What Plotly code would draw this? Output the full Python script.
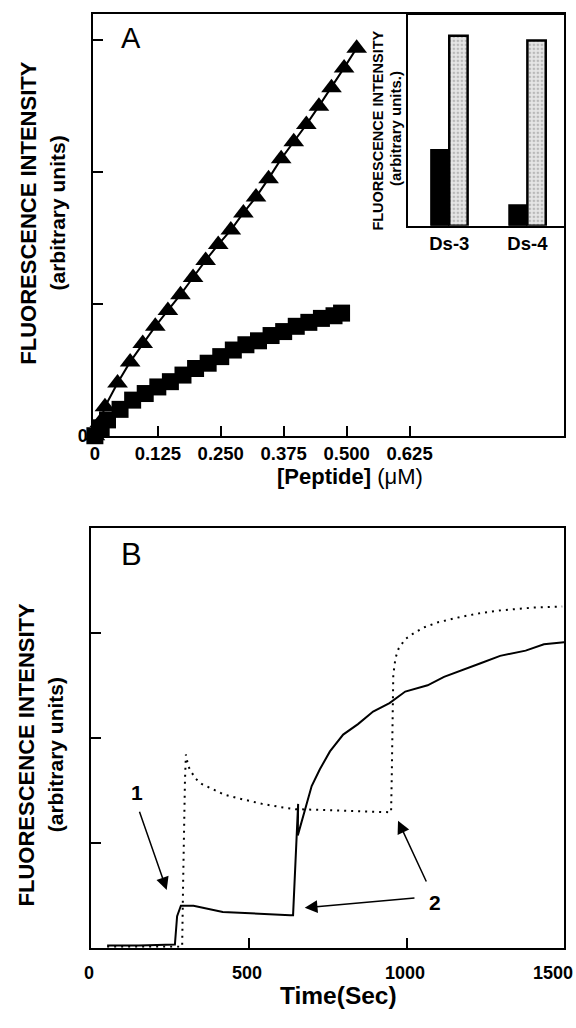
import plotly.graph_objects as go

# ---------------- Panel A data ----------------
tri_x = [0, 0.01, 0.02, 0.045, 0.07, 0.095, 0.12, 0.145, 0.17, 0.195, 0.22, 0.245,
         0.27, 0.295, 0.32, 0.345, 0.37, 0.395, 0.42, 0.445, 0.47, 0.495, 0.52]
tri_y = [0.0, 0.10, 0.22, 0.40, 0.56, 0.70, 0.83, 0.95, 1.07, 1.20, 1.33, 1.45,
         1.56, 1.69, 1.81, 1.95, 2.10, 2.23, 2.36, 2.50, 2.64, 2.79, 2.94]
sq_x = [0, 0.0125, 0.025, 0.05, 0.075, 0.1, 0.125, 0.15, 0.175, 0.2, 0.225, 0.25,
        0.275, 0.3, 0.325, 0.35, 0.375, 0.4, 0.425, 0.45, 0.475, 0.49]
sq_y = [0.0, 0.06, 0.12, 0.20, 0.27, 0.32, 0.37, 0.41, 0.46, 0.51, 0.55, 0.60,
        0.65, 0.69, 0.72, 0.76, 0.79, 0.83, 0.86, 0.89, 0.91, 0.93]
A_xticks = [0, 0.125, 0.25, 0.375, 0.5, 0.625]
A_xticklabels = ["0", "0.125", "0.250", "0.375", "0.500", "0.625"]
A_yticks = [0, 1, 2, 3]
A_yticklabels = ["0", "", "", ""]

# ---------------- Inset data ----------------
inset_cats = ["Ds-3", "Ds-4"]
inset_black = [0.40, 0.11]
inset_gray = [1.00, 0.975]

# ---------------- Panel B data ----------------
solid_t = [50, 150, 265, 272, 284, 324, 417, 533, 631, 640, 650, 656, 655, 665, 678,
           699, 725, 757, 799, 846, 894, 946, 996, 1067, 1119, 1170, 1235, 1297,
           1378, 1436, 1500]
solid_y = [0.02, 0.02, 0.03, 0.30, 0.40, 0.40, 0.34, 0.32, 0.31, 0.31, 1.07, 1.37,
           1.07, 1.18, 1.32, 1.54, 1.70, 1.87, 2.03, 2.13, 2.25, 2.33, 2.44, 2.50,
           2.58, 2.64, 2.71, 2.78, 2.83, 2.89, 2.91]
dot_t = [50, 150, 288, 291, 294, 297, 300, 307, 318, 331, 350, 384, 420, 457, 500,
         542, 600, 647, 700, 752, 800, 857, 951, 953, 955, 958, 965, 975, 996, 1020,
         1054, 1100, 1170, 1230, 1286, 1340, 1401, 1450, 1494]
dot_y = [0.01, 0.01, 0.01, 0.60, 1.20, 1.60, 1.84, 1.73, 1.67, 1.61, 1.56, 1.51,
         1.46, 1.43, 1.40, 1.37, 1.34, 1.32, 1.315, 1.31, 1.305, 1.30, 1.29, 1.60,
         2.10, 2.60, 2.76, 2.85, 2.94, 2.99, 3.05, 3.10, 3.15, 3.185, 3.21, 3.225,
         3.24, 3.245, 3.25]
B_xticks = [0, 500, 1000, 1500]
B_xticklabels = ["0", "500", "1000", "1500"]
B_yticks = [0, 1, 2, 3]

FONT = "Liberation Sans, Arial, Helvetica, sans-serif"
W, H = 576, 1028


def px(x):
    return x / W


def py(y):
    return 1 - y / H


fig = go.Figure()

# Panel A traces
fig.add_trace(go.Scatter(x=tri_x, y=tri_y, mode="lines+markers",
                         line=dict(color="black", width=2),
                         marker=dict(symbol="triangle-up", size=18, color="black"),
                         cliponaxis=False, xaxis="x", yaxis="y", showlegend=False))
fig.add_trace(go.Scatter(x=sq_x, y=sq_y, mode="markers",
                         marker=dict(symbol="square", size=17, color="black"),
                         cliponaxis=False, xaxis="x", yaxis="y", showlegend=False))

# Inset bars
fig.add_trace(go.Bar(x=inset_cats, y=inset_black, marker=dict(color="black",
                     line=dict(color="black", width=1.5)),
                     xaxis="x3", yaxis="y3", showlegend=False))
fig.add_trace(go.Bar(x=inset_cats, y=inset_gray,
                     marker=dict(color="#e6e6e6", line=dict(color="black", width=2.5),
                                 pattern=dict(shape=".", fgcolor="#8a8a8a",
                                              bgcolor="#e6e6e6", size=4, solidity=0.35)),
                     xaxis="x3", yaxis="y3", showlegend=False))

# Panel B traces
fig.add_trace(go.Scatter(x=solid_t, y=solid_y, mode="lines",
                         line=dict(color="black", width=2),
                         xaxis="x2", yaxis="y2", showlegend=False))
fig.add_trace(go.Scatter(x=dot_t, y=dot_y, mode="lines",
                         line=dict(color="black", width=2, dash="2px,5px"),
                         xaxis="x2", yaxis="y2", showlegend=False))

axis_common = dict(showline=True, mirror=True, linecolor="black", linewidth=2,
                   showgrid=False, zeroline=False, ticks="inside", tickcolor="black",
                   tickwidth=1.5, ticklen=10)

fig.update_layout(
    width=W, height=H, margin=dict(l=0, r=0, t=0, b=0),
    paper_bgcolor="white", plot_bgcolor="white",
    font=dict(family=FONT, color="black"),
    barmode="group", bargap=0.53, bargroupgap=0,
    xaxis=dict(domain=[px(90), px(564)], range=[-0.003, 0.932],
               tickvals=A_xticks, ticktext=A_xticklabels,
               tickfont=dict(size=18.5, weight="bold"), anchor="y", **axis_common),
    yaxis=dict(domain=[py(440), py(14)], range=[0, 3.2],
               tickvals=A_yticks, ticktext=A_yticklabels,
               tickfont=dict(size=18, weight="bold"), anchor="x", **axis_common),
    xaxis2=dict(domain=[px(88), px(564)], range=[0, 1500],
                tickvals=B_xticks, showticklabels=False, anchor="y2", **axis_common),
    yaxis2=dict(domain=[py(957), py(533)], range=[0, 4],
                tickvals=B_yticks, showticklabels=False, anchor="x2", **axis_common),
    xaxis3=dict(domain=[px(406.7), px(564)], anchor="y3", showline=True, mirror=True,
                linecolor="black", linewidth=2, showgrid=False, zeroline=False,
                ticks="", tickfont=dict(size=18.5, weight="bold"), range=[-0.53, 1.47]),
    yaxis3=dict(domain=[py(228), py(15)], anchor="x3", range=[0, 1.11],
                showline=True, mirror=True, linecolor="black", linewidth=2,
                showgrid=False, zeroline=False, ticks="", showticklabels=False),
)

ann = []


def txt(text, x, y, size, angle=0):
    return dict(text=text, x=px(x), y=py(y), xref="paper", yref="paper",
                xanchor="center", yanchor="middle", textangle=angle,
                showarrow=False, font=dict(size=size))


# Panel letters
ann.append(txt("A", 128, 38, 29))
ann.append(txt("B", 128, 560, 31))
# Y titles
ann.append(txt("<b>FLUORESCENCE INTENSITY</b>", 25, 215, 22, -90))
ann.append(txt("<b>(arbitrary units)</b>", 54, 215, 21, -90))
ann.append(txt("<b>FLUORESCENCE INTENSITY</b>", 23, 762, 22, -90))
ann.append(txt("<b>(arbitrary units)</b>", 52, 762, 21, -90))
# Inset y titles
ann.append(txt("<b>FLUORESCENCE INTENSITY</b>", 376.5, 132, 14.5, -90))
ann.append(txt("<b>(arbitrary units.)</b>", 394, 130, 15, -90))
# X titles
ann.append(txt("<b>[Peptide]</b> (μM)", 348, 481, 22))
ann.append(txt("<b>Time(Sec)</b>", 337, 1005, 24.5))
# Panel B tick labels
for v, lab in zip(B_xticks, B_xticklabels):
    last = v == B_xticks[-1]
    ann.append(dict(text=f"<b>{lab}</b>", x=v, y=0, xref="x2", yref="y2",
                    yshift=-25, xshift=(11 if last else -2),
                    xanchor=("right" if last else "center"), yanchor="middle",
                    showarrow=False, font=dict(size=18)))
# Arrows and labels in panel B
ann.append(dict(text="<b>1</b>", x=145, y=1.48, xref="x2", yref="y2",
                showarrow=False, font=dict(size=21)))
ann.append(dict(text="<b>2</b>", x=1089, y=0.427, xref="x2", yref="y2",
                showarrow=False, font=dict(size=21)))
arrows = [((151, 1.31), (239, 0.55)),
          ((1030, 0.475), (677, 0.38)),
          ((1065, 0.616), (973, 1.21))]
for (tx, ty), (hx, hy) in arrows:
    ann.append(dict(x=hx, y=hy, ax=tx, ay=ty, xref="x2", yref="y2",
                    axref="x2", ayref="y2", text="", showarrow=True,
                    arrowhead=2, arrowsize=1.7, arrowwidth=1.5, arrowcolor="black"))

fig.update_layout(annotations=ann)
fig.write_html("out.html", config={"displayModeBar": False},
               post_script="document.documentElement.style.margin='0';"
                           "document.body.style.margin='0';"
                           "document.body.style.padding='0';"
                           "document.body.style.fontSize='0';"
                           "document.body.style.lineHeight='0';"
                           "document.body.style.overflow='hidden';")
